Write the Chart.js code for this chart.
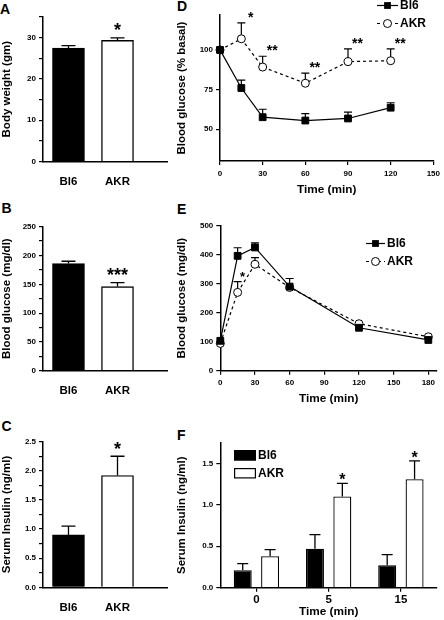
<!DOCTYPE html>
<html><head><meta charset="utf-8">
<script src="https://cdn.jsdelivr.net/npm/chart.js@4.4.1/dist/chart.umd.min.js"></script>
<style>
html,body{margin:0;padding:0;background:#fff;}
body{width:444px;height:620px;position:relative;overflow:hidden;}
canvas{position:absolute;}
.pl{position:absolute;font:bold 14px 'Liberation Sans',Arial,sans-serif;line-height:14px;color:#000;}
</style></head><body>
<div class="pl" style="left:0px;top:1.5px">A</div>
<div class="pl" style="left:1.5px;top:201.2px">B</div>
<div class="pl" style="left:1.5px;top:418.9px">C</div>
<div class="pl" style="left:177px;top:-1px">D</div>
<div class="pl" style="left:177px;top:201.5px">E</div>
<div class="pl" style="left:177px;top:428.2px">F</div>
<script>
// ---------------- DATA ----------------
const strains = ['Bl6', 'AKR'];

// A: body weight
const bodyWeight = [27.4, 29.3];
const bodyWeightSem = [0.6, 0.6];
const bodyWeightSig = ['', '*'];
const bodyWeightTicks = [0, 5, 10, 15, 20, 25, 30, 35];

// B: fasting blood glucose
const glucose = [186, 146];
const glucoseSem = [4, 7];
const glucoseSig = ['', '***'];
const glucoseTicks = [0, 25, 50, 75, 100, 125, 150, 175, 200, 225, 250];

// C: serum insulin
const insulin = [0.90, 1.92];
const insulinSem = [0.15, 0.33];
const insulinSig = ['', '*'];
const insulinTicks = [0, 0.25, 0.5, 0.75, 1.0, 1.25, 1.5, 1.75, 2.0, 2.25, 2.5];

// D: insulin tolerance test (% basal)
const ittTime = [0, 15, 30, 60, 90, 120];
const ittBl6 = [100, 76, 57.6, 55.5, 56.8, 63.6];
const ittBl6Sem = [0, 5, 5, 4.3, 4, 3.1];
const ittAkr = [100, 107, 89.2, 79, 92.6, 93.2];
const ittAkrSem = [0, 10, 6.8, 6.4, 8, 7.4];
const ittSig = ['', '*', '**', '**', '**', '**'];
const ittTicksX = [0, 30, 60, 90, 120, 150];
const ittTicksY = [50, 75, 100];

// E: glucose tolerance test (mg/dl)
const gttTime = [0, 15, 30, 60, 120, 180];
const gttBl6 = [103, 396, 425, 290, 148, 106];
const gttBl6Sem = [0, 28, 16, 28, 0, 0];
const gttAkr = [94, 270, 367, 287, 162, 117];
const gttAkrSem = [0, 37, 23, 0, 0, 0];
const gttSig = ['', '*', '', '', '', ''];
const gttTicksX = [0, 30, 60, 90, 120, 150, 180];
const gttTicksY = [0, 100, 200, 300, 400, 500];

// F: serum insulin after glucose (ng/ml)
const gsisTime = ['0', '5', '15'];
const gsisBl6 = [0.21, 0.47, 0.27];
const gsisBl6Sem = [0.08, 0.17, 0.13];
const gsisAkr = [0.38, 1.10, 1.31];
const gsisAkrSem = [0.08, 0.16, 0.22];
const gsisSig = ['', '*', '*'];
const gsisTicksY = [0, 0.5, 1.0, 1.5];

// ---------------- HELPERS ----------------
const FONT = "'Liberation Sans', Arial, Helvetica, sans-serif";
Chart.defaults.font.family = FONT;
Chart.defaults.color = '#000';
const f = (size) => ({family: FONT, size: size, weight: 'bold'});

function canvasAt(L, T, W, H) {
  const c = document.createElement('canvas');
  c.width = W; c.height = H;
  c.style.left = L + 'px'; c.style.top = T + 'px';
  c.style.width = W + 'px'; c.style.height = H + 'px';
  document.body.appendChild(c);
  return c;
}

const tickGrid = {display: true, drawOnChartArea: false, drawTicks: true, tickLength: 4, color: '#000', lineWidth: 1.2};
const axisBorder = {display: true, color: '#000', width: 1.5};

function yAxis(o) {
  return {
    type: 'linear', position: 'left', min: o.min, max: o.max,
    afterFit: s => { s.width = o.w; },
    afterBuildTicks: s => { s.ticks = o.ticks.map(v => ({value: v})); },
    grid: tickGrid, border: axisBorder,
    ticks: {font: f(8), color: '#000', padding: 3, autoSkip: false, callback: o.label},
    title: {display: true, text: o.title, font: f(11.5), color: '#000', padding: 0}
  };
}
function xLin(o) {
  return {
    type: 'linear', position: 'bottom', min: o.min, max: o.max,
    afterFit: s => { s.height = o.h; },
    afterBuildTicks: s => { s.ticks = o.ticks.map(v => ({value: v})); },
    grid: tickGrid, border: axisBorder,
    ticks: {font: f(8), color: '#000', padding: o.pad, autoSkip: false, maxRotation: 0, callback: v => String(v)},
    title: {display: true, text: o.title, font: f(11.8), color: '#000', padding: 0}
  };
}
function barX(o) {
  return {
    type: 'linear', position: 'bottom', min: o.min, max: o.max, offset: false,
    afterFit: s => { s.height = o.h; },
    afterBuildTicks: s => { s.ticks = o.labels.map((_, i) => ({value: i + 1})); },
    grid: {display: false}, border: axisBorder,
    ticks: {font: f(11.5), color: '#000', padding: 5.5, autoSkip: false, maxRotation: 0,
      callback: v => o.labels[Math.round(v) - 1] || ''}
  };
}

function drawLegendItem(ctx, L, T, it) {
  ctx.save();
  ctx.strokeStyle = '#000'; ctx.fillStyle = '#000';
  if (it.kind === 'line') {
    const y = it.y - T;
    ctx.lineWidth = 1.2; ctx.setLineDash(it.dash);
    ctx.beginPath(); ctx.moveTo(it.x1 - L, y); ctx.lineTo(it.x2 - L, y); ctx.stroke();
    ctx.setLineDash([]);
    const cx = (it.x1 + it.x2) / 2 - L;
    if (it.style === 'rect') {
      ctx.fillRect(cx - 3.4, y - 3.4, 6.8, 6.8);
    } else {
      ctx.beginPath(); ctx.arc(cx, y, 4, 0, Math.PI * 2);
      ctx.fillStyle = '#fff'; ctx.fill(); ctx.lineWidth = 1; ctx.stroke();
    }
  } else {
    ctx.fillStyle = it.fill; ctx.fillRect(it.x - L, it.y - T, it.w, it.h);
    ctx.lineWidth = 1.2; ctx.strokeRect(it.x - L + 0.6, it.y - T + 0.6, it.w - 1.2, it.h - 1.2);
  }
  ctx.fillStyle = '#000'; ctx.font = 'bold 12px ' + FONT;
  ctx.textBaseline = 'middle'; ctx.textAlign = 'left';
  ctx.fillText(it.text, it.tx - L, it.ty - T);
  ctx.restore();
}

function makeMarks(cfg) {
  return {
    id: 'marks',
    beforeDatasetsDraw(chart) {
      const ctx = chart.ctx, ys = chart.scales.y;
      cfg.series.forEach((sr, di) => {
        const meta = chart.getDatasetMeta(di);
        meta.data.forEach((el, j) => {
          const s = sr.sem[j]; if (!s) return;
          const x = el.x, b = ys.getPixelForValue(sr.vals[j]), t = ys.getPixelForValue(sr.vals[j] + s);
          ctx.save(); ctx.strokeStyle = '#000'; ctx.lineWidth = cfg.elw;
          ctx.beginPath(); ctx.moveTo(x, b); ctx.lineTo(x, t);
          ctx.moveTo(x - cfg.cap / 2, t); ctx.lineTo(x + cfg.cap / 2, t); ctx.stroke();
          ctx.restore();
        });
      });
    },
    afterDatasetsDraw(chart) {
      const ctx = chart.ctx, ys = chart.scales.y;
      cfg.series.forEach((sr, di) => {
        if (!sr.sig) return;
        const meta = chart.getDatasetMeta(di);
        sr.sig.forEach((txt, j) => {
          if (!txt) return;
          const el = meta.data[j];
          const t = ys.getPixelForValue(sr.vals[j] + (sr.sem[j] || 0));
          ctx.save(); ctx.fillStyle = '#000';
          ctx.font = 'bold ' + cfg.starSize + 'px ' + FONT;
          ctx.textAlign = 'center'; ctx.textBaseline = 'alphabetic';
          ctx.fillText(txt, el.x + cfg.sdx, t - cfg.sdy + 0.57 * cfg.starSize);
          ctx.restore();
        });
      });
      (cfg.legend || []).forEach(it => drawLegendItem(ctx, cfg.L, cfg.T, it));
    }
  };
}

const base = (pad) => ({
  responsive: false, animation: false, devicePixelRatio: 1,
  layout: {autoPadding: false, padding: pad},
  plugins: {legend: {display: false}, tooltip: {enabled: false}}
});

// ---------------- PANELS A, B, C (single bars) ----------------
function simpleBar(box, vals, sem, sig, ticks, ymax, title, label) {
  const cv = canvasAt(box.L, box.T, box.W, box.H);
  const opts = base({left: 0, top: box.pt, right: box.pr, bottom: 0});
  opts.scales = {
    x: barX({min: 0.48, max: 3.01, h: box.hx, labels: strains}),
    y: yAxis({min: 0, max: ymax, ticks: ticks, w: 43, title: title, label: label})
  };
  new Chart(cv, {
    type: 'bar',
    data: {datasets: [{
      label: title,
      data: strains.map((s, i) => ({x: i + 1, y: vals[i]})),
      backgroundColor: ['#000', '#fff'], borderColor: '#000', borderWidth: 1.4,
      barThickness: 32
    }]},
    options: opts,
    plugins: [makeMarks({L: box.L, T: box.T, elw: 1.3, cap: 14, starSize: 18, sdx: 0, sdy: 12,
      series: [{vals: vals, sem: sem, sig: sig}]})]
  });
}

simpleBar({L: 0, T: 0, W: 178, H: 190, pt: 16.7, pr: 11, hx: 28.3},
  bodyWeight, bodyWeightSem, bodyWeightSig, bodyWeightTicks, 35, 'Body weight (gm)',
  v => (v % 10 === 0 ? String(v) : ''));
simpleBar({L: 0, T: 195, W: 178, H: 200, pt: 31.7, pr: 11, hx: 24.3},
  glucose, glucoseSem, glucoseSig, glucoseTicks, 250, 'Blood glucose (mg/dl)',
  v => (v % 50 === 0 ? String(v) : ''));
simpleBar({L: 0, T: 405, W: 178, H: 215, pt: 36.7, pr: 11, hx: 32.7},
  insulin, insulinSem, insulinSig, insulinTicks, 2.5, 'Serum Insulin (ng/ml)',
  v => (Math.abs(v * 2 - Math.round(v * 2)) < 1e-6 ? v.toFixed(1) : ''));

// ---------------- LINE PANELS D, E ----------------
function lineDs(label, xs, ys, style) {
  const sq = style === 'rect';
  return {
    label: label, data: xs.map((x, i) => ({x: x, y: ys[i]})),
    borderColor: '#000', borderWidth: 1.2, borderDash: sq ? [] : [3, 3],
    pointStyle: style, pointRadius: sq ? 4.8 : 4,
    pointBackgroundColor: sq ? '#000' : '#fff', pointBorderColor: '#000', pointBorderWidth: 1,
    tension: 0, clip: false, fill: false
  };
}

// D
(function () {
  const box = {L: 175, T: 0, W: 269, H: 197};
  const opts = base({left: 0, top: 15, right: 7.3, bottom: 0});
  opts.scales = {
    x: xLin({min: 0, max: 150, ticks: ittTicksX, h: 36, pad: 4, title: 'Time (min)'}),
    y: yAxis({min: 30, max: 122, ticks: ittTicksY, w: 45, title: 'Blood glucose (% basal)', label: v => String(v)})
  };
  new Chart(canvasAt(box.L, box.T, box.W, box.H), {
    type: 'line',
    data: {datasets: [lineDs(strains[0], ittTime, ittBl6, 'rect'), lineDs(strains[1], ittTime, ittAkr, 'circle')]},
    options: opts,
    plugins: [makeMarks({L: box.L, T: box.T, elw: 1.2, cap: 8, starSize: 14, sdx: 9.5, sdy: 9,
      series: [{vals: ittBl6, sem: ittBl6Sem}, {vals: ittAkr, sem: ittAkrSem, sig: ittSig}],
      legend: [
        {kind: 'line', x1: 377, x2: 398, y: 5.5, dash: [], style: 'rect', text: strains[0], tx: 400, ty: 5.5},
        {kind: 'line', x1: 377, x2: 398, y: 23.5, dash: [3, 3], style: 'circle', text: strains[1], tx: 400, ty: 23.5}
      ]})]
  });
})();

// E
(function () {
  const box = {L: 175, T: 205, W: 269, H: 201};
  const opts = base({left: 0, top: 20.7, right: 7, bottom: 0});
  opts.scales = {
    x: xLin({min: 0, max: 187.5, ticks: gttTicksX, h: 35.3, pad: 3, title: 'Time (min)'}),
    y: yAxis({min: 0, max: 500, ticks: gttTicksY, w: 45.3, title: 'Blood glucose (mg/dl)', label: v => String(v)})
  };
  new Chart(canvasAt(box.L, box.T, box.W, box.H), {
    type: 'line',
    data: {datasets: [lineDs(strains[0], gttTime, gttBl6, 'rect'), lineDs(strains[1], gttTime, gttAkr, 'circle')]},
    options: opts,
    plugins: [makeMarks({L: box.L, T: box.T, elw: 1.2, cap: 8, starSize: 13, sdx: 5, sdy: 8,
      series: [{vals: gttBl6, sem: gttBl6Sem}, {vals: gttAkr, sem: gttAkrSem, sig: gttSig}],
      legend: [
        {kind: 'line', x1: 366, x2: 385, y: 243.5, dash: [], style: 'rect', text: strains[0], tx: 387, ty: 243.5},
        {kind: 'line', x1: 366, x2: 385, y: 261.5, dash: [3, 3], style: 'circle', text: strains[1], tx: 387, ty: 261.5}
      ]})]
  });
})();

// ---------------- F (grouped bars) ----------------
(function () {
  const box = {L: 175, T: 415, W: 269, H: 204};
  const opts = base({left: 0, top: 27.7, right: 7, bottom: 0});
  opts.scales = {
    x: {
      type: 'category', offset: true,
      afterFit: s => { s.height = 31.3; },
      grid: Object.assign({}, tickGrid, {offset: false}), border: axisBorder,
      ticks: {font: f(11.5), color: '#000', padding: 1.4, autoSkip: false, maxRotation: 0},
      title: {display: true, text: 'Time (min)', font: f(11.8), color: '#000', padding: 0}
    },
    y: yAxis({min: 0, max: 1.75, ticks: gsisTicksY, w: 45.3, title: 'Serum Insulin (ng/ml)', label: v => v.toFixed(1)})
  };
  new Chart(canvasAt(box.L, box.T, box.W, box.H), {
    type: 'bar',
    data: {labels: gsisTime, datasets: [
      {label: strains[0], data: gsisBl6, backgroundColor: '#000', borderColor: '#000', borderWidth: 1.3,
        barPercentage: 0.657, categoryPercentage: 0.758},
      {label: strains[1], data: gsisAkr, backgroundColor: '#fff', borderColor: '#000', borderWidth: 1.3,
        barPercentage: 0.657, categoryPercentage: 0.758}
    ]},
    options: opts,
    plugins: [makeMarks({L: box.L, T: box.T, elw: 1.3, cap: 11, starSize: 16, sdx: 0, sdy: 7.5,
      series: [{vals: gsisBl6, sem: gsisBl6Sem}, {vals: gsisAkr, sem: gsisAkrSem, sig: gsisSig}],
      legend: [
        {kind: 'box', x: 234, y: 450, w: 22, h: 10.5, fill: '#000', text: strains[0], tx: 258, ty: 455.5},
        {kind: 'box', x: 234, y: 468, w: 22, h: 10.5, fill: '#fff', text: strains[1], tx: 258, ty: 473.5}
      ]})]
  });
})();
</script>
</body></html>
